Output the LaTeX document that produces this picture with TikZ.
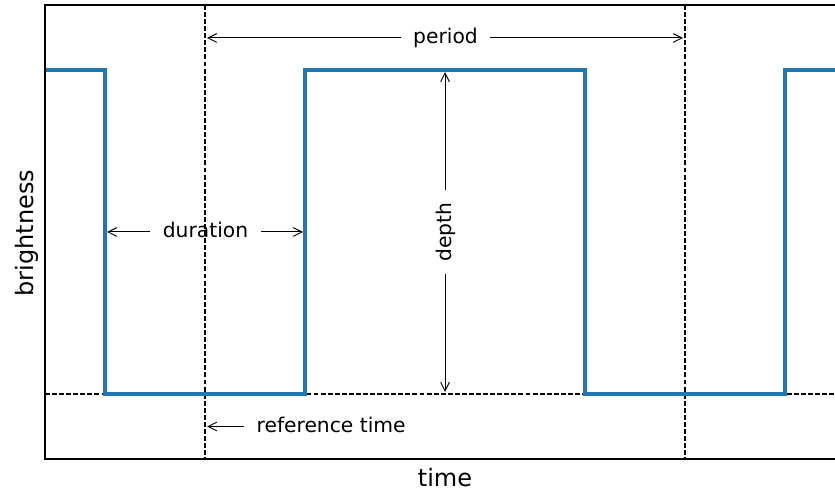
\documentclass[tikz,border=0pt]{standalone}
\usepackage{fontspec}
\setmainfont{DejaVu Sans}
\usetikzlibrary{arrows.meta}
\definecolor{mplblue}{HTML}{1F77B4}
\begin{document}
\begin{tikzpicture}[x=0.75pt,y=-0.75pt,
  frame/.style={line width=1.1pt},
  guide/.style={line width=1pt, dash pattern=on 3.7pt off 1.6pt},
  signal/.style={mplblue, line width=2.5pt, line join=miter},
  dim/.style={line width=0.75pt, -{Straight Barb[length=6.5pt,width=6.5pt]}},
  lab/.style={font=\fontsize{15.2}{18}\selectfont, inner ysep=0pt, inner xsep=9.3pt, anchor=base},
  axlab/.style={font=\fontsize{18}{21}\selectfont, inner sep=0pt, anchor=base}]
\useasboundingbox (0,0) rectangle (835,491);
% guides
\coordinate (vA1) at (205,5);   \coordinate (vA2) at (205,459);
\coordinate (vB1) at (685,5);   \coordinate (vB2) at (685,459);
\coordinate (hL) at (45,394);   \coordinate (hR) at (835,394);
\draw[guide] (vA1) -- (vA2);
\draw[guide] (vB1) -- (vB2);
\draw[guide] (hL) -- (hR);
% signal
\draw[signal] (45,70) -- (105,70) -- (105,394) -- (305,394) -- (305,70)
  -- (585,70) -- (585,394) -- (785,394) -- (785,70) -- (835,70);
% frame
\coordinate (fTL) at (45,5); \coordinate (fBL) at (45,459);
\coordinate (fTR) at (835,5); \coordinate (fBR) at (835,459);
\draw[frame] (fTR) -- (fTL) -- (fBL) -- (fBR);
% period
\node[lab] (period) at (445.5,44) {period};
\coordinate (perL) at (207,38); \coordinate (perR) at (683,38);
\draw[dim] (period.west |- perL) -- (perL);
\draw[dim] (period.east |- perR) -- (perR);
% duration
\node[lab] (duration) at (205.5,238) {duration};
\coordinate (durL) at (107,232); \coordinate (durR) at (303,232);
\draw[dim] (duration.west |- durL) -- (durL);
\draw[dim] (duration.east |- durR) -- (durR);
% depth
\node[lab, rotate=90] (depth) at (451,232) {depth};
\coordinate (depT) at (445,72); \coordinate (depB) at (445,392);
\draw[dim] (depth.east -| depT) -- (depT);
\draw[dim] (depth.west -| depB) -- (depB);
% reference time
\node[lab, anchor=base west] (ref) at (244,432.5) {reference time};
\coordinate (refT) at (207,426.5);
\draw[dim] (ref.west |- refT) -- (refT);
% axis labels
\node[axlab] (xl) at (445,486) {time};
\node[axlab, rotate=90] (yl) at (33,233) {brightness};
\end{tikzpicture}
\end{document}
